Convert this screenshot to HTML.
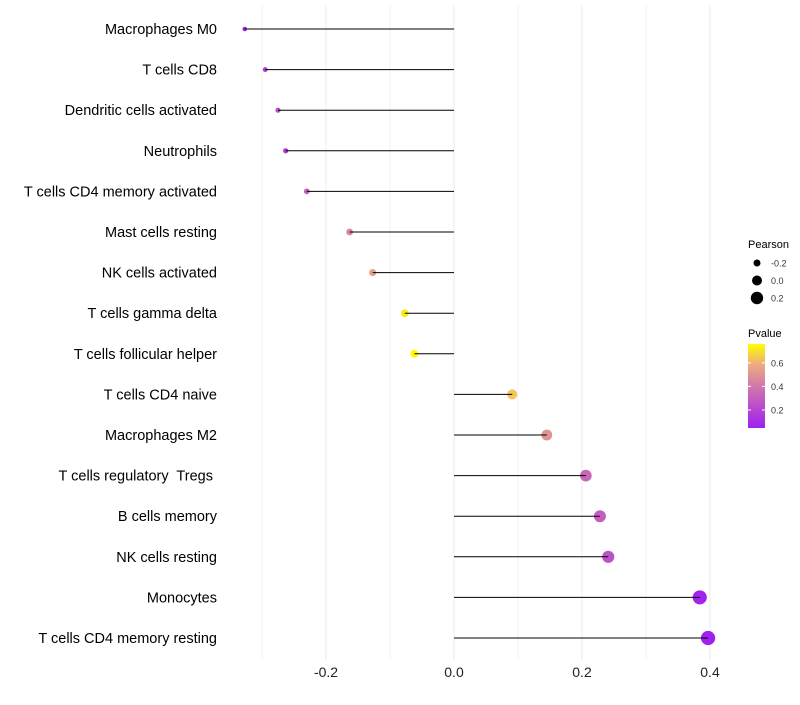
<!DOCTYPE html>
<html><head><meta charset="utf-8"><style>
body{margin:0;background:#fff;font-family:"Liberation Sans",sans-serif}
text{white-space:pre}
</style></head><body>
<svg id="c" width="800" height="700" xmlns="http://www.w3.org/2000/svg"></svg>
<script>
const categories=["Macrophages M0","T cells CD8","Dendritic cells activated","Neutrophils","T cells CD4 memory activated","Mast cells resting","NK cells activated","T cells gamma delta","T cells follicular helper","T cells CD4 naive","Macrophages M2","T cells regulatory  Tregs ","B cells memory","NK cells resting","Monocytes","T cells CD4 memory resting"];
const pearson=[-0.327,-0.295,-0.275,-0.263,-0.230,-0.163,-0.127,-0.077,-0.062,0.091,0.145,0.206,0.228,0.241,0.384,0.397];
const pvalue=[0.05,0.17,0.22,0.17,0.3,0.45,0.55,0.72,0.75,0.65,0.5,0.33,0.3,0.25,0.06,0.05];
const xTicks=[-0.2,0,0.2,0.4];
const xTickLabels=["-0.2","0.0","0.2","0.4"];
const gridVals=[-0.3,-0.2,-0.1,0,0.1,0.2,0.3,0.4];
const sizeLegend=[-0.2,0.0,0.2];
const colorTicks=[0.2,0.4,0.6];
const NS="http://www.w3.org/2000/svg";
const svg=document.getElementById('c');
const X=v=>454+v*640;
const Y=i=>29+i*40.6;
const P=p=>428-(p-0.047)*(84/0.713);
const R=v=>Math.max(1.8,2.2+(v+0.33)*6.8);
function col(p){const t=Math.min(1,Math.max(0,(p-0.047)/0.713));
const stops=[[0,[160,32,240]],[0.5,[210,120,170]],[0.8,[242,180,120]],[1,[255,255,0]]];
for(let k=1;k<stops.length;k++){if(t<=stops[k][0]){const a=stops[k-1],b=stops[k];const u=(t-a[0])/(b[0]-a[0]);
return 'rgb('+a[1].map((c,j)=>Math.round(c+(b[1][j]-c)*u)).join(',')+')';}}return 'rgb(255,255,0)';}
function mk(tag,at,txt){const e=document.createElementNS(NS,tag);for(const k in at)e.setAttribute(k,at[k]);if(txt!==undefined)e.textContent=txt;svg.appendChild(e);return e;}
gridVals.forEach(g=>{const e=mk('line',{x1:X(g),x2:X(g),y1:5,y2:660,stroke:'#ebebeb','stroke-width':Math.abs(g*10%2)<0.01?1:0.6});
});
categories.forEach((c,i)=>{const y=Y(i);
const d=mk('circle',{cx:X(pearson[i]),cy:y,r:R(pearson[i]),fill:col(pvalue[i])});

const g=mk('line',{x1:X(0),x2:X(pearson[i]),y1:y,y2:y,stroke:'#000','stroke-width':1});

const t=mk('text',{x:217,y:y+5,'text-anchor':'end','font-size':14.5,fill:'#000'},c);
});
xTicks.forEach((v,i)=>{const t=mk('text',{x:X(v),y:677,'text-anchor':'middle','font-size':14,fill:'#222'},xTickLabels[i]);
});
let t=mk('text',{x:748,y:248,'font-size':11,fill:'#000'},'Pearson');
sizeLegend.forEach((v,i)=>{const y=263+i*17.5;
const c=mk('circle',{cx:757,cy:y,r:[3.5,5,6.2][i],fill:'#000'});
const l=mk('text',{x:771,y:y+3.5,'font-size':9,fill:'#333'},['-0.2','0.0','0.2'][i]);});
t=mk('text',{x:748,y:337,'font-size':11,fill:'#000'},'Pvalue');
const defs=mk('defs',{});const lg=document.createElementNS(NS,'linearGradient');lg.setAttribute('id','gr');lg.setAttribute('x1','0');lg.setAttribute('y1','1');lg.setAttribute('x2','0');lg.setAttribute('y2','0');defs.appendChild(lg);
[0,0.25,0.5,0.75,1].forEach(o=>{const s=document.createElementNS(NS,'stop');s.setAttribute('offset',o);s.setAttribute('stop-color',col(0.047+o*0.713));lg.appendChild(s);});
const bar=mk('rect',{x:748,y:344,width:17,height:84,fill:'url(#gr)'});
colorTicks.forEach(p=>{const y=P(p);mk('line',{x1:748,x2:751,y1:y,y2:y,stroke:'#fff'});mk('line',{x1:762,x2:765,y1:y,y2:y,stroke:'#fff'});
const l=mk('text',{x:771,y:y+3.5,'font-size':9,fill:'#333'},p.toFixed(1));});
</script>
</body></html>
